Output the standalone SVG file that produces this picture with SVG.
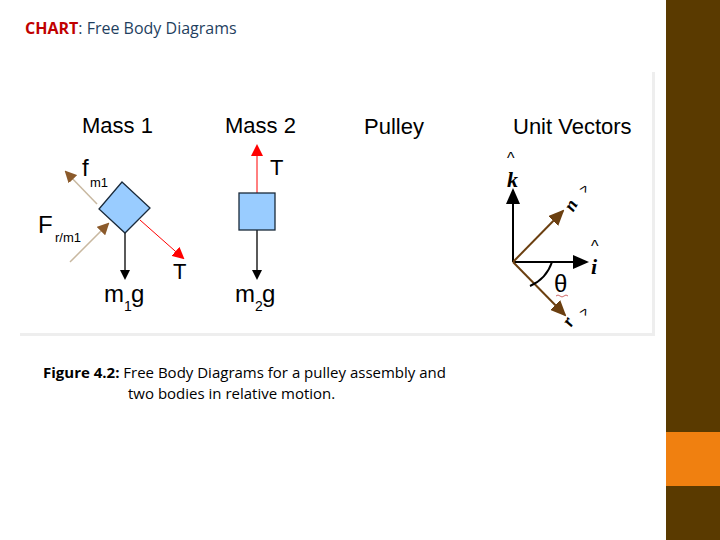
<svg xmlns="http://www.w3.org/2000/svg" width="720" height="540" viewBox="0 0 720 540">
<style>
.t{font-family:"Liberation Sans",Arial,sans-serif;fill:#000}
.c{font-family:"Open Sans","Liberation Sans",sans-serif}
.blk{fill:#99ccff;stroke:#1a2a3a;stroke-width:1.3}
</style>
<defs>
<marker id="mb" markerWidth="10" markerHeight="10" refX="8" refY="5" orient="auto" markerUnits="userSpaceOnUse"><path d="M0,0L10,5L0,10z" fill="#000"/></marker>
<marker id="mr" markerWidth="12" markerHeight="12" refX="10" refY="6" orient="auto" markerUnits="userSpaceOnUse"><path d="M0,0L12,6L0,12z" fill="#ff0000"/></marker>
<marker id="mo" markerWidth="12" markerHeight="12" refX="10" refY="6" orient="auto" markerUnits="userSpaceOnUse"><path d="M0,0L12,6L0,12z" fill="#8b5a2b"/></marker>
<marker id="mk" markerWidth="16" markerHeight="14" refX="14" refY="7" orient="auto" markerUnits="userSpaceOnUse"><path d="M0,0L16,7L0,14z" fill="#000"/></marker>
<marker id="mn" markerWidth="16" markerHeight="14" refX="14" refY="7" orient="auto" markerUnits="userSpaceOnUse"><path d="M0,0L16,7L0,14z" fill="#6b3f10"/></marker>
</defs>
<rect width="720" height="540" fill="#fff"/>
<rect x="666" y="0" width="54" height="540" fill="#5a3a00"/>
<rect x="666" y="432" width="54" height="54" fill="#f08010"/>
<rect x="20" y="72" width="634" height="263" fill="#fff"/>
<rect x="652" y="72" width="3" height="263" fill="#eee"/>
<rect x="20" y="333" width="635" height="3" fill="#eee"/>
<text x="25" y="34" class="c" font-size="16"><tspan fill="#c00000" font-weight="bold">CHART</tspan><tspan fill="#1f3f5f">: Free Body Diagrams</tspan></text>
<g id="connectors">
<line x1="97" y1="204" x2="66" y2="172" stroke="#c8b8a0" stroke-width="1.5" marker-end="url(#mo)"/>
<line x1="70" y1="262" x2="108" y2="224" stroke="#c8b8a0" stroke-width="1.5" marker-end="url(#mo)"/>
<line x1="140" y1="220" x2="183" y2="258" stroke="#ff0000" stroke-width="1" marker-end="url(#mr)"/>
<line x1="125" y1="233" x2="125" y2="278" stroke="#000" stroke-width="1.3" marker-end="url(#mb)"/>
<line x1="257" y1="193" x2="257" y2="146" stroke="#ff0000" stroke-width="1" marker-end="url(#mr)"/>
<line x1="257" y1="230" x2="257" y2="278" stroke="#000" stroke-width="1.3" marker-end="url(#mb)"/>
<line x1="513" y1="262" x2="513" y2="190" stroke="#000" stroke-width="2" marker-end="url(#mk)"/>
<line x1="513" y1="262" x2="587" y2="262" stroke="#000" stroke-width="2" marker-end="url(#mk)"/>
<line x1="513" y1="262" x2="563" y2="211" stroke="#6b3f10" stroke-width="2" marker-end="url(#mn)"/>
<line x1="513" y1="262" x2="565" y2="315" stroke="#6b3f10" stroke-width="2" marker-end="url(#mn)"/>
<path d="M552,262 A40,40 0 0 1 530,286" fill="none" stroke="#000" stroke-width="2"/>
</g>
<g id="mass1">
<polygon points="122,182 150,208 125,233 99,209" class="blk"/>
<text x="82" y="133" class="t" font-size="22">Mass 1</text>
<text x="82" y="176" class="t" font-size="24">f</text><text x="90" y="187" class="t" font-size="13">m1</text>
<text x="38" y="233" class="t" font-size="24">F</text><text x="55" y="242" class="t" font-size="13">r/m1</text>
<text x="173" y="279" class="t" font-size="22">T</text>
<text x="104" y="302" class="t" font-size="24">m</text><text x="124" y="311" class="t" font-size="14">1</text><text x="131" y="302" class="t" font-size="24">g</text>
</g>
<g id="mass2">
<rect x="239" y="193" width="36" height="37" class="blk"/>
<text x="225" y="133" class="t" font-size="22">Mass 2</text>
<text x="270" y="175" class="t" font-size="22">T</text>
<text x="235" y="302" class="t" font-size="24">m</text><text x="255" y="311" class="t" font-size="14">2</text><text x="262" y="302" class="t" font-size="24">g</text>
</g>
<g id="pulley"><text x="364" y="134" class="t" font-size="22">Pulley</text></g>
<g id="unitvectors">
<text x="513" y="134" class="t" font-size="22">Unit Vectors</text>
<text x="507" y="164" font-family="Liberation Sans,sans-serif" font-size="16">^</text>
<text x="507" y="187" font-family="Liberation Serif,serif" font-size="22" font-style="italic" font-weight="bold">k</text>
<text x="591" y="252" font-family="Liberation Sans,sans-serif" font-size="16">^</text>
<text x="591" y="274" font-family="Liberation Serif,serif" font-size="22" font-style="italic" font-weight="bold">i</text>
<text x="566" y="212" font-family="Liberation Serif,serif" font-size="18" font-style="italic" font-weight="bold" transform="rotate(-60 570 206)">n</text>
<text x="579" y="197" font-family="Liberation Sans,sans-serif" font-size="16" transform="rotate(30 584 191)">^</text>
<text x="564" y="327" font-family="Liberation Serif,serif" font-size="18" font-style="italic" font-weight="bold" transform="rotate(-60 568 321)">r</text>
<text x="579" y="320" font-family="Liberation Sans,sans-serif" font-size="16" transform="rotate(30 584 314)">^</text>
<text x="554" y="292" class="t" font-size="24">θ</text>
<path d="M556,296 q2,-2 4,0 t4,0 t4,0" fill="none" stroke="#c04040" stroke-width="0.8"/>
</g>
<g id="caption">
<text x="43" y="378" class="c" font-size="15"><tspan font-weight="bold">Figure 4.2:</tspan> Free Body Diagrams for a pulley assembly and</text>
<text x="128" y="399" class="c" font-size="15">two bodies in relative motion.</text>
</g>
</svg>
